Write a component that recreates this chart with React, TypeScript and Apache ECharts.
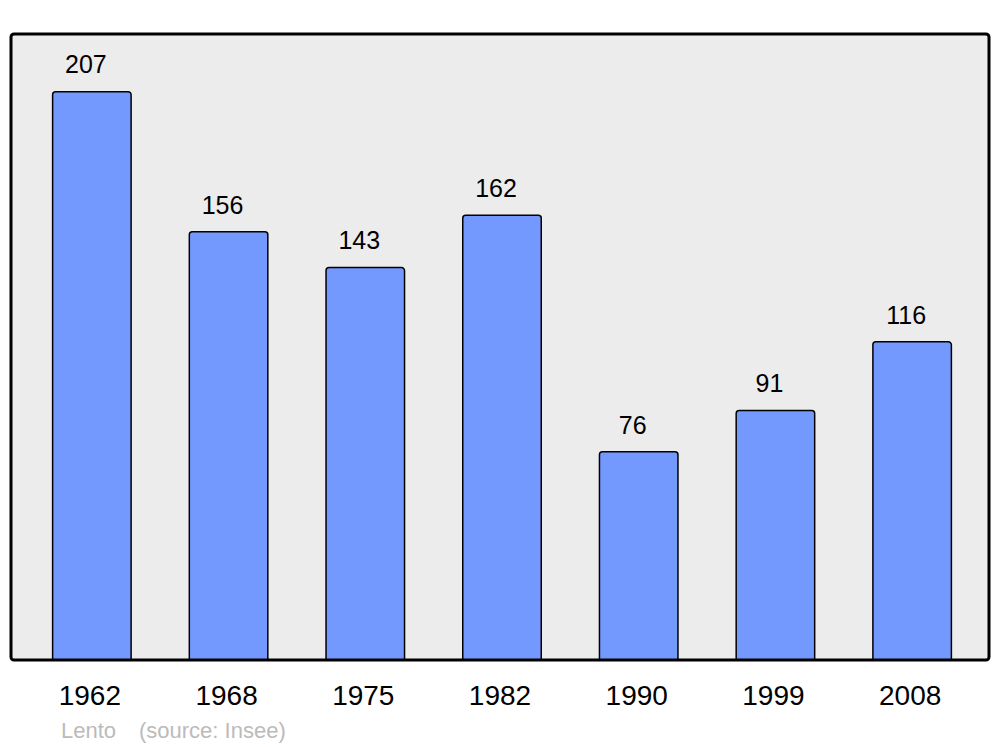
import React, { useEffect, useRef } from "react";
import * as echarts from "echarts";

const years = ["1962", "1968", "1975", "1982", "1990", "1999", "2008"];
const population = [207, 156, 143, 162, 76, 91, 116];
const sourceName = "Lento";
const sourceNote = "(source: Insee)";

const FONT = "Liberation Sans, Arial, sans-serif";

export default function App() {
  const ref = useRef<HTMLDivElement>(null);
  useEffect(() => {
    if (!ref.current) return;
    const chart = echarts.init(ref.current, null, { renderer: "svg" });
    chart.setOption({
      animation: false,
      backgroundColor: "#ffffff",
      graphic: [
        {
          type: "rect",
          z: -10,
          shape: { x: 11, y: 34, width: 978, height: 626, r: 3 },
          style: { fill: "#ececec", stroke: "#000000", lineWidth: 3 },
        },
        {
          type: "text",
          left: 61,
          top: 719,
          style: { text: sourceName, fill: "#bbbbbb", fontSize: 22, fontFamily: FONT },
        },
        {
          type: "text",
          left: 139,
          top: 719,
          style: { text: sourceNote, fill: "#bbbbbb", fontSize: 22, fontFamily: FONT },
        },
      ],
      grid: { left: 23.5, right: 19.5, top: 34, bottom: 87, containLabel: false },
      xAxis: {
        type: "category",
        data: years,
        axisLine: { show: false },
        axisTick: { show: false },
        axisLabel: {
          color: "#000000",
          fontSize: 28,
          margin: 21,
          padding: [0, 4, 0, 0],
          fontFamily: FONT,
        },
      },
      yAxis: {
        type: "value",
        min: 0,
        max: 227.7,
        show: false,
        splitLine: { show: false },
      },
      series: [
        {
          type: "bar",
          data: population,
          barWidth: 80,
          itemStyle: {
            color: "#7399ff",
            borderColor: "#000000",
            borderWidth: 1.5,
            borderRadius: [3, 3, 0, 0],
          },
          label: {
            show: true,
            position: "top",
            distance: 14,
            offset: [-6, 0],
            color: "#000000",
            fontSize: 25,
            fontFamily: FONT,
          },
        },
      ],
    });
    return () => chart.dispose();
  }, []);
  return (
    <div
      ref={ref}
      style={{ position: "fixed", left: 0, top: 0, width: 1000, height: 747 }}
    />
  );
}
